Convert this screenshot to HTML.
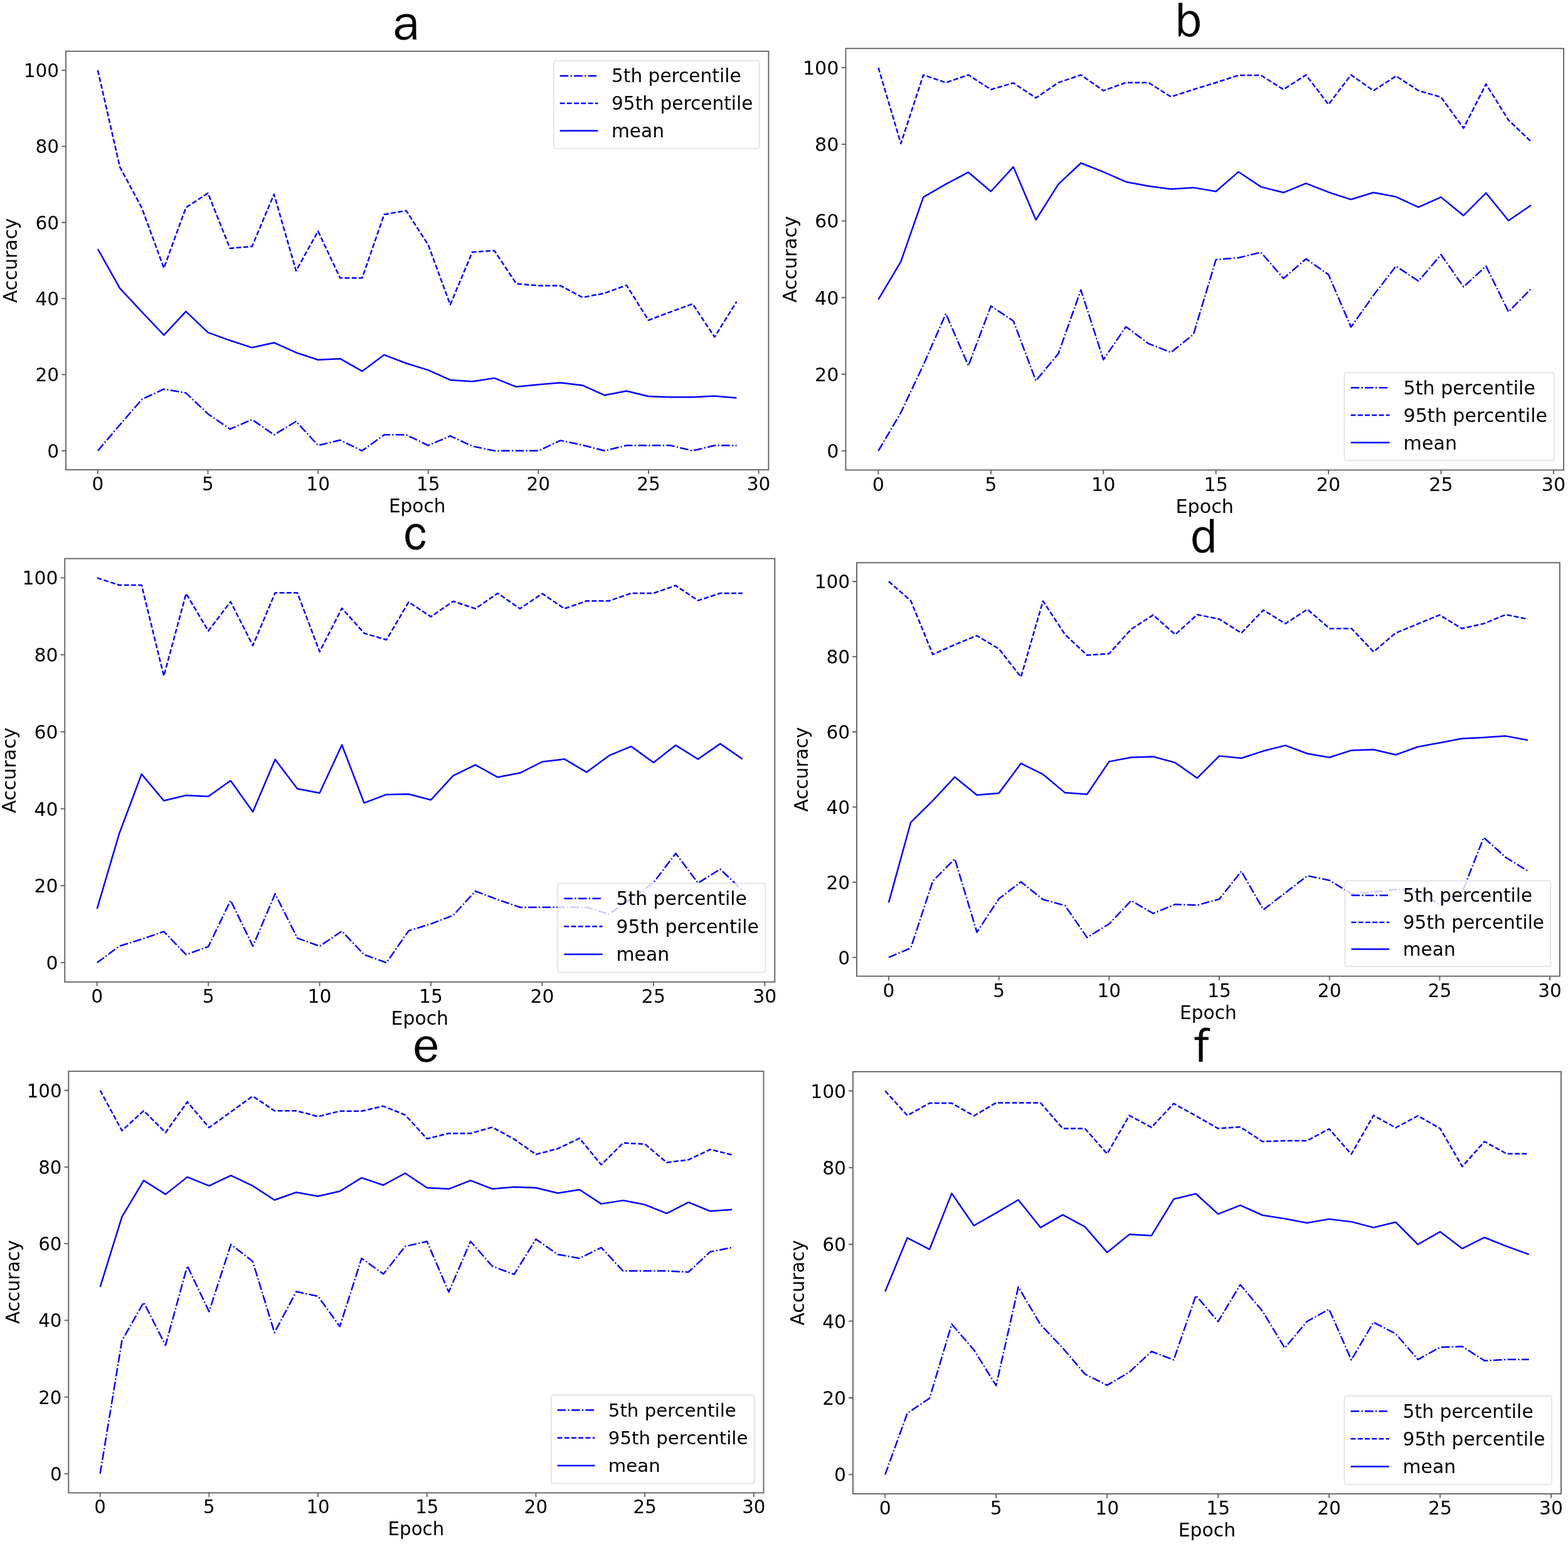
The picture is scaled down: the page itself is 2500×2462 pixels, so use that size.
<!DOCTYPE html>
<html><head><meta charset="utf-8"><title>Accuracy per epoch</title>
<style>
html,body{margin:0;padding:0;background:#fff;}
body{width:2500px;height:2462px;overflow:hidden;}
svg{display:block;}
.t{font-family:"DejaVu Sans","Liberation Sans",sans-serif;font-size:29.6px;fill:#000;}
.ti{font-family:"WenQuanYi Zen Hei","Liberation Sans",sans-serif;font-size:78px;fill:#000;}
</style></head><body>
<svg xmlns="http://www.w3.org/2000/svg" width="2500" height="2462" viewBox="0 0 2500 2462">
<rect width="2500" height="2462" fill="#fff"/>
<clipPath id="ca"><rect x="105" y="81.7" width="1120.4" height="667.4"/></clipPath>
<g clip-path="url(#ca)" fill="none" stroke="#0000ff" stroke-width="2.5" stroke-linejoin="round">
<polyline points="155.93,718.76 191.05,677.51 226.17,636.86 261.29,620.47 296.42,626.54 331.54,659.91 366.66,684.18 401.78,669.01 436.91,693.28 472.03,672.05 507.15,710.27 542.27,701.78 577.39,718.76 612.52,693.28 647.64,693.28 682.76,710.27 717.88,695.1 753.01,711.48 788.13,718.76 823.25,718.76 858.37,718.76 893.49,702.38 928.62,709.66 963.74,718.76 998.86,710.27 1033.98,710.27 1069.11,710.27 1104.23,718.76 1139.35,710.27 1174.47,710.27" stroke-dasharray="13.57 3.39 2.12 3.39"/>
<polyline points="155.93,112.04 191.05,266.15 226.17,331.67 261.29,427.53 296.42,331.06 331.54,308.01 366.66,395.98 401.78,392.95 436.91,309.83 472.03,431.78 507.15,368.68 542.27,443.31 577.39,443.31 612.52,341.99 647.64,335.92 682.76,390.52 717.88,485.78 753.01,402.05 788.13,399.63 823.25,452.41 858.37,455.44 893.49,455.44 928.62,474.25 963.74,467.58 998.86,454.84 1033.98,510.66 1069.11,497.31 1104.23,484.57 1139.35,537.35 1174.47,480.93" stroke-dasharray="7.84 3.39"/>
<polyline points="155.93,397.2 191.05,459.69 226.17,497.31 261.29,534.32 296.42,496.7 331.54,530.07 366.66,542.81 401.78,554.34 436.91,546.45 472.03,562.23 507.15,573.76 542.27,571.94 577.39,591.96 612.52,565.87 647.64,579.22 682.76,590.14 717.88,605.91 753.01,608.34 788.13,602.88 823.25,616.83 858.37,613.19 893.49,610.16 928.62,614.41 963.74,630.18 998.86,623.51 1033.98,632 1069.11,633.22 1104.23,633.22 1139.35,631.39 1174.47,634.43" />
</g>
<rect x="882.7" y="97.1" width="328.1" height="139.7" rx="3.5" ry="3.5" fill="#ffffff" fill-opacity="0.8" stroke="#dddddd" stroke-width="1.5"/>
<line x1="892.7" y1="120.99" x2="953.4" y2="120.99" stroke="#0000ff" stroke-width="2.5" stroke-dasharray="13.57 3.39 2.12 3.39"/>
<text x="975" y="131.49" class="t" style="font-size:29.6px">5th percentile</text>
<line x1="892.7" y1="164.76" x2="953.4" y2="164.76" stroke="#0000ff" stroke-width="2.5" stroke-dasharray="7.84 3.39"/>
<text x="975" y="175.26" class="t" style="font-size:29.6px">95th percentile</text>
<line x1="892.7" y1="208.52" x2="953.4" y2="208.52" stroke="#0000ff" stroke-width="2.5" />
<text x="975" y="219.02" class="t" style="font-size:29.6px">mean</text>
<rect x="105" y="81.7" width="1120.4" height="667.4" fill="none" stroke="#5c5c5c" stroke-width="1.8"/>
<text x="155.93" y="782.1" class="t" text-anchor="middle" style="font-size:29.6px">0</text>
<text x="331.54" y="782.1" class="t" text-anchor="middle" style="font-size:29.6px">5</text>
<text x="507.15" y="782.1" class="t" text-anchor="middle" style="font-size:29.6px">10</text>
<text x="682.76" y="782.1" class="t" text-anchor="middle" style="font-size:29.6px">15</text>
<text x="858.37" y="782.1" class="t" text-anchor="middle" style="font-size:29.6px">20</text>
<text x="1033.98" y="782.1" class="t" text-anchor="middle" style="font-size:29.6px">25</text>
<text x="1209.59" y="782.1" class="t" text-anchor="middle" style="font-size:29.6px">30</text>
<text x="94.2" y="729.76" class="t" text-anchor="end" style="font-size:29.6px">0</text>
<text x="94.2" y="608.42" class="t" text-anchor="end" style="font-size:29.6px">20</text>
<text x="94.2" y="487.07" class="t" text-anchor="end" style="font-size:29.6px">40</text>
<text x="94.2" y="365.73" class="t" text-anchor="end" style="font-size:29.6px">60</text>
<text x="94.2" y="244.38" class="t" text-anchor="end" style="font-size:29.6px">80</text>
<text x="94.2" y="123.04" class="t" text-anchor="end" style="font-size:29.6px">100</text>
<path d="M155.93 749.1v6.7 M331.54 749.1v6.7 M507.15 749.1v6.7 M682.76 749.1v6.7 M858.37 749.1v6.7 M1033.98 749.1v6.7 M1209.59 749.1v6.7 M105 718.76h-6.7 M105 597.42h-6.7 M105 476.07h-6.7 M105 354.73h-6.7 M105 233.38h-6.7 M105 112.04h-6.7" stroke="#5c5c5c" stroke-width="1.8" fill="none"/>
<text x="665.2" y="817.1" class="t" text-anchor="middle" style="font-size:29.6px">Epoch</text>
<text x="0" y="0" class="t" text-anchor="middle" style="font-size:29.6px" transform="translate(27 415.4) rotate(-90)">Accuracy</text>
<text x="646.5" y="63" class="ti" text-anchor="middle">a</text>
<clipPath id="cb"><rect x="1348.4" y="77.3" width="1144.7" height="672.2"/></clipPath>
<g clip-path="url(#cb)" fill="none" stroke="#0000ff" stroke-width="2.5" stroke-linejoin="round">
<polyline points="1400.43,718.95 1436.32,657.84 1472.2,582.06 1508.08,500.17 1543.97,583.28 1579.85,487.95 1615.74,511.79 1651.62,607.12 1687.5,563.73 1723.39,462.29 1759.27,573.51 1795.16,520.95 1831.04,547.84 1866.92,561.9 1902.81,533.17 1938.69,414.01 1974.58,410.96 2010.46,402.4 2046.34,443.95 2082.23,412.79 2118.11,437.84 2154,521.56 2189.88,470.84 2225.76,424.4 2261.65,448.23 2297.53,406.07 2333.42,457.4 2369.3,424.4 2405.18,497.12 2441.07,460.45" stroke-dasharray="13.57 3.39 2.12 3.39"/>
<polyline points="1400.43,107.85 1436.32,228.85 1472.2,119.47 1508.08,131.69 1543.97,119.47 1579.85,142.69 1615.74,132.3 1651.62,156.13 1687.5,131.69 1723.39,119.47 1759.27,144.52 1795.16,131.69 1831.04,131.69 1866.92,154.3 1902.81,142.69 1938.69,131.69 1974.58,120.08 2010.46,120.08 2046.34,142.69 2082.23,119.47 2118.11,166.52 2154,119.47 2189.88,144.52 2225.76,121.3 2261.65,144.52 2297.53,154.91 2333.42,204.41 2369.3,134.13 2405.18,191.57 2441.07,225.8" stroke-dasharray="7.84 3.39"/>
<polyline points="1400.43,477.56 1436.32,417.07 1472.2,314.4 1508.08,293.63 1543.97,274.68 1579.85,305.24 1615.74,266.13 1651.62,350.46 1687.5,293.63 1723.39,260.02 1759.27,274.07 1795.16,289.96 1831.04,296.68 1866.92,301.57 1902.81,299.13 1938.69,305.24 1974.58,274.07 2010.46,297.9 2046.34,307.07 2082.23,292.4 2118.11,306.46 2154,318.07 2189.88,307.07 2225.76,313.79 2261.65,330.29 2297.53,314.4 2333.42,343.74 2369.3,307.68 2405.18,351.68 2441.07,327.24" />
</g>
<rect x="2143.5" y="594.2" width="334.2" height="140" rx="3.5" ry="3.5" fill="#ffffff" fill-opacity="0.8" stroke="#dddddd" stroke-width="1.5"/>
<line x1="2153.69" y1="618.14" x2="2215.51" y2="618.14" stroke="#0000ff" stroke-width="2.5" stroke-dasharray="13.57 3.39 2.12 3.39"/>
<text x="2237.52" y="628.84" class="t" style="font-size:30.15px">5th percentile</text>
<line x1="2153.69" y1="662" x2="2215.51" y2="662" stroke="#0000ff" stroke-width="2.5" stroke-dasharray="7.84 3.39"/>
<text x="2237.52" y="672.7" class="t" style="font-size:30.15px">95th percentile</text>
<line x1="2153.69" y1="705.86" x2="2215.51" y2="705.86" stroke="#0000ff" stroke-width="2.5" />
<text x="2237.52" y="716.56" class="t" style="font-size:30.15px">mean</text>
<rect x="1348.4" y="77.3" width="1144.7" height="672.2" fill="none" stroke="#5c5c5c" stroke-width="1.8"/>
<text x="1400.43" y="782.5" class="t" text-anchor="middle" style="font-size:30.24px">0</text>
<text x="1579.85" y="782.5" class="t" text-anchor="middle" style="font-size:30.24px">5</text>
<text x="1759.27" y="782.5" class="t" text-anchor="middle" style="font-size:30.24px">10</text>
<text x="1938.69" y="782.5" class="t" text-anchor="middle" style="font-size:30.24px">15</text>
<text x="2118.11" y="782.5" class="t" text-anchor="middle" style="font-size:30.24px">20</text>
<text x="2297.53" y="782.5" class="t" text-anchor="middle" style="font-size:30.24px">25</text>
<text x="2476.95" y="782.5" class="t" text-anchor="middle" style="font-size:30.24px">30</text>
<text x="1337.6" y="729.95" class="t" text-anchor="end" style="font-size:30.24px">0</text>
<text x="1337.6" y="607.73" class="t" text-anchor="end" style="font-size:30.24px">20</text>
<text x="1337.6" y="485.51" class="t" text-anchor="end" style="font-size:30.24px">40</text>
<text x="1337.6" y="363.29" class="t" text-anchor="end" style="font-size:30.24px">60</text>
<text x="1337.6" y="241.07" class="t" text-anchor="end" style="font-size:30.24px">80</text>
<text x="1337.6" y="118.85" class="t" text-anchor="end" style="font-size:30.24px">100</text>
<path d="M1400.43 749.5v6.7 M1579.85 749.5v6.7 M1759.27 749.5v6.7 M1938.69 749.5v6.7 M2118.11 749.5v6.7 M2297.53 749.5v6.7 M2476.95 749.5v6.7 M1348.4 718.95h-6.7 M1348.4 596.73h-6.7 M1348.4 474.51h-6.7 M1348.4 352.29h-6.7 M1348.4 230.07h-6.7 M1348.4 107.85h-6.7" stroke="#5c5c5c" stroke-width="1.8" fill="none"/>
<text x="1920.75" y="817.5" class="t" text-anchor="middle" style="font-size:30.24px">Epoch</text>
<text x="0" y="0" class="t" text-anchor="middle" style="font-size:30.24px" transform="translate(1270.4 413.4) rotate(-90)">Accuracy</text>
<text x="1895.2" y="57.9" class="ti" text-anchor="middle">b</text>
<clipPath id="cc"><rect x="103.3" y="890.7" width="1132" height="675.1"/></clipPath>
<g clip-path="url(#cc)" fill="none" stroke="#0000ff" stroke-width="2.5" stroke-linejoin="round">
<polyline points="154.75,1535.11 190.24,1508.72 225.73,1497.68 261.21,1485.4 296.7,1522.23 332.18,1509.34 367.67,1435.69 403.16,1508.72 438.64,1425.26 474.13,1495.84 509.61,1508.72 545.1,1484.79 580.59,1522.23 616.07,1535.11 651.56,1484.17 687.04,1473.13 722.53,1459.63 758.01,1420.96 793.5,1434.46 828.99,1446.74 864.47,1446.74 899.96,1446.74 935.44,1446.74 970.93,1457.78 1006.42,1433.23 1041.9,1407.46 1077.39,1360.82 1112.87,1408.07 1148.36,1385.98 1183.85,1419.73" stroke-dasharray="13.57 3.39 2.12 3.39"/>
<polyline points="154.75,921.39 190.24,933.05 225.73,933.05 261.21,1077.89 296.7,946.55 332.18,1006.08 367.67,959.44 403.16,1029.4 438.64,945.32 474.13,945.32 509.61,1039.22 545.1,969.87 580.59,1009.76 616.07,1020.2 651.56,960.05 687.04,983.37 722.53,958.82 758.01,970.48 793.5,945.94 828.99,970.48 864.47,946.55 899.96,970.48 935.44,958.21 970.93,958.21 1006.42,945.94 1041.9,945.94 1077.39,933.66 1112.87,957.6 1148.36,945.94 1183.85,945.94" stroke-dasharray="7.84 3.39"/>
<polyline points="154.75,1449.19 190.24,1328.9 225.73,1234.39 261.21,1276.73 296.7,1268.14 332.18,1269.98 367.67,1244.82 403.16,1294.53 438.64,1211.07 474.13,1257.71 509.61,1264.46 545.1,1187.74 580.59,1280.42 616.07,1266.91 651.56,1266.3 687.04,1275.51 722.53,1236.84 758.01,1219.66 793.5,1239.3 828.99,1232.55 864.47,1214.75 899.96,1210.45 935.44,1231.32 970.93,1204.93 1006.42,1190.2 1041.9,1215.98 1077.39,1188.36 1112.87,1210.45 1148.36,1185.9 1183.85,1210.45" />
</g>
<rect x="889.3" y="1408.6" width="331.1" height="141.8" rx="3.5" ry="3.5" fill="#ffffff" fill-opacity="0.8" stroke="#dddddd" stroke-width="1.5"/>
<line x1="899.39" y1="1432.85" x2="960.65" y2="1432.85" stroke="#0000ff" stroke-width="2.5" stroke-dasharray="13.57 3.39 2.12 3.39"/>
<text x="982.44" y="1443.44" class="t" style="font-size:29.87px">5th percentile</text>
<line x1="899.39" y1="1477.27" x2="960.65" y2="1477.27" stroke="#0000ff" stroke-width="2.5" stroke-dasharray="7.84 3.39"/>
<text x="982.44" y="1487.87" class="t" style="font-size:29.87px">95th percentile</text>
<line x1="899.39" y1="1521.7" x2="960.65" y2="1521.7" stroke="#0000ff" stroke-width="2.5" />
<text x="982.44" y="1532.3" class="t" style="font-size:29.87px">mean</text>
<rect x="103.3" y="890.7" width="1132" height="675.1" fill="none" stroke="#5c5c5c" stroke-width="1.8"/>
<text x="154.75" y="1598.8" class="t" text-anchor="middle" style="font-size:29.91px">0</text>
<text x="332.18" y="1598.8" class="t" text-anchor="middle" style="font-size:29.91px">5</text>
<text x="509.61" y="1598.8" class="t" text-anchor="middle" style="font-size:29.91px">10</text>
<text x="687.04" y="1598.8" class="t" text-anchor="middle" style="font-size:29.91px">15</text>
<text x="864.47" y="1598.8" class="t" text-anchor="middle" style="font-size:29.91px">20</text>
<text x="1041.9" y="1598.8" class="t" text-anchor="middle" style="font-size:29.91px">25</text>
<text x="1219.33" y="1598.8" class="t" text-anchor="middle" style="font-size:29.91px">30</text>
<text x="92.5" y="1546.11" class="t" text-anchor="end" style="font-size:29.91px">0</text>
<text x="92.5" y="1423.37" class="t" text-anchor="end" style="font-size:29.91px">20</text>
<text x="92.5" y="1300.62" class="t" text-anchor="end" style="font-size:29.91px">40</text>
<text x="92.5" y="1177.88" class="t" text-anchor="end" style="font-size:29.91px">60</text>
<text x="92.5" y="1055.13" class="t" text-anchor="end" style="font-size:29.91px">80</text>
<text x="92.5" y="932.39" class="t" text-anchor="end" style="font-size:29.91px">100</text>
<path d="M154.75 1565.8v6.7 M332.18 1565.8v6.7 M509.61 1565.8v6.7 M687.04 1565.8v6.7 M864.47 1565.8v6.7 M1041.9 1565.8v6.7 M1219.33 1565.8v6.7 M103.3 1535.11h-6.7 M103.3 1412.37h-6.7 M103.3 1289.62h-6.7 M103.3 1166.88h-6.7 M103.3 1044.13h-6.7 M103.3 921.39h-6.7" stroke="#5c5c5c" stroke-width="1.8" fill="none"/>
<text x="669.3" y="1633.8" class="t" text-anchor="middle" style="font-size:29.91px">Epoch</text>
<text x="0" y="0" class="t" text-anchor="middle" style="font-size:29.91px" transform="translate(25.3 1228.25) rotate(-90)">Accuracy</text>
<text x="662.3" y="876.2" class="ti" text-anchor="middle">c</text>
<clipPath id="cd"><rect x="1366" y="897.3" width="1120.9" height="659.3"/></clipPath>
<g clip-path="url(#cd)" fill="none" stroke="#0000ff" stroke-width="2.5" stroke-linejoin="round">
<polyline points="1416.95,1526.63 1452.09,1511.65 1487.23,1404.96 1522.36,1369.6 1557.5,1486.47 1592.64,1433.13 1627.78,1406.16 1662.92,1434.33 1698.05,1443.92 1733.19,1494.87 1768.33,1473.29 1803.47,1436.13 1838.61,1456.51 1873.74,1442.12 1908.88,1443.32 1944.02,1433.73 1979.16,1389.38 2014.29,1450.51 2049.43,1423.54 2084.57,1396.57 2119.71,1403.76 2154.85,1425.34 2189.98,1422.34 2225.12,1418.15 2260.26,1419.95 2295.4,1442.72 2330.54,1424.14 2365.67,1335.43 2400.81,1367.2 2435.95,1388.78" stroke-dasharray="13.57 3.39 2.12 3.39"/>
<polyline points="1416.95,927.27 1452.09,957.84 1487.23,1043.54 1522.36,1027.96 1557.5,1013.58 1592.64,1034.55 1627.78,1079.51 1662.92,958.44 1698.05,1011.78 1733.19,1044.74 1768.33,1042.35 1803.47,1003.39 1838.61,980.61 1873.74,1011.78 1908.88,980.01 1944.02,987.2 1979.16,1009.38 2014.29,972.82 2049.43,994.4 2084.57,971.62 2119.71,1002.19 2154.85,1002.19 2189.98,1039.35 2225.12,1009.38 2260.26,995 2295.4,980.61 2330.54,1002.19 2365.67,994.4 2400.81,980.01 2435.95,987.2" stroke-dasharray="7.84 3.39"/>
<polyline points="1416.95,1439.12 1452.09,1311.46 1487.23,1276.7 1522.36,1238.94 1557.5,1267.71 1592.64,1264.71 1627.78,1217.36 1662.92,1234.74 1698.05,1264.11 1733.19,1266.51 1768.33,1214.36 1803.47,1207.77 1838.61,1206.57 1873.74,1216.16 1908.88,1240.74 1944.02,1205.37 1979.16,1208.97 2014.29,1197.58 2049.43,1188.59 2084.57,1201.78 2119.71,1207.77 2154.85,1196.38 2189.98,1195.18 2225.12,1203.57 2260.26,1190.99 2295.4,1184.4 2330.54,1177.8 2365.67,1176 2400.81,1173.61 2435.95,1180.2" />
</g>
<rect x="2144.5" y="1404.5" width="328" height="136.6" rx="3.5" ry="3.5" fill="#ffffff" fill-opacity="0.8" stroke="#dddddd" stroke-width="1.5"/>
<line x1="2154.5" y1="1427.86" x2="2215.18" y2="1427.86" stroke="#0000ff" stroke-width="2.5" stroke-dasharray="13.57 3.39 2.12 3.39"/>
<text x="2236.77" y="1438.36" class="t" style="font-size:29.59px">5th percentile</text>
<line x1="2154.5" y1="1470.66" x2="2215.18" y2="1470.66" stroke="#0000ff" stroke-width="2.5" stroke-dasharray="7.84 3.39"/>
<text x="2236.77" y="1481.15" class="t" style="font-size:29.59px">95th percentile</text>
<line x1="2154.5" y1="1513.45" x2="2215.18" y2="1513.45" stroke="#0000ff" stroke-width="2.5" />
<text x="2236.77" y="1523.95" class="t" style="font-size:29.59px">mean</text>
<rect x="1366" y="897.3" width="1120.9" height="659.3" fill="none" stroke="#5c5c5c" stroke-width="1.8"/>
<text x="1416.95" y="1589.6" class="t" text-anchor="middle" style="font-size:29.61px">0</text>
<text x="1592.64" y="1589.6" class="t" text-anchor="middle" style="font-size:29.61px">5</text>
<text x="1768.33" y="1589.6" class="t" text-anchor="middle" style="font-size:29.61px">10</text>
<text x="1944.02" y="1589.6" class="t" text-anchor="middle" style="font-size:29.61px">15</text>
<text x="2119.71" y="1589.6" class="t" text-anchor="middle" style="font-size:29.61px">20</text>
<text x="2295.4" y="1589.6" class="t" text-anchor="middle" style="font-size:29.61px">25</text>
<text x="2471.09" y="1589.6" class="t" text-anchor="middle" style="font-size:29.61px">30</text>
<text x="1355.2" y="1537.63" class="t" text-anchor="end" style="font-size:29.61px">0</text>
<text x="1355.2" y="1417.76" class="t" text-anchor="end" style="font-size:29.61px">20</text>
<text x="1355.2" y="1297.89" class="t" text-anchor="end" style="font-size:29.61px">40</text>
<text x="1355.2" y="1178.01" class="t" text-anchor="end" style="font-size:29.61px">60</text>
<text x="1355.2" y="1058.14" class="t" text-anchor="end" style="font-size:29.61px">80</text>
<text x="1355.2" y="938.27" class="t" text-anchor="end" style="font-size:29.61px">100</text>
<path d="M1416.95 1556.6v6.7 M1592.64 1556.6v6.7 M1768.33 1556.6v6.7 M1944.02 1556.6v6.7 M2119.71 1556.6v6.7 M2295.4 1556.6v6.7 M2471.09 1556.6v6.7 M1366 1526.63h-6.7 M1366 1406.76h-6.7 M1366 1286.89h-6.7 M1366 1167.01h-6.7 M1366 1047.14h-6.7 M1366 927.27h-6.7" stroke="#5c5c5c" stroke-width="1.8" fill="none"/>
<text x="1926.45" y="1624.6" class="t" text-anchor="middle" style="font-size:29.61px">Epoch</text>
<text x="0" y="0" class="t" text-anchor="middle" style="font-size:29.61px" transform="translate(1288 1226.95) rotate(-90)">Accuracy</text>
<text x="1919.3" y="880.7" class="ti" text-anchor="middle">d</text>
<clipPath id="ce"><rect x="109.3" y="1708.2" width="1108.2" height="672.2"/></clipPath>
<g clip-path="url(#ce)" fill="none" stroke="#0000ff" stroke-width="2.5" stroke-linejoin="round">
<polyline points="159.67,2349.85 194.41,2137.8 229.15,2076.69 263.89,2145.13 298.63,2018.63 333.37,2091.35 368.11,1984.41 402.85,2011.3 437.59,2124.96 472.33,2059.58 507.07,2066.91 541.81,2115.19 576.55,2006.41 611.29,2031.47 646.03,1987.47 680.77,1979.52 715.51,2060.19 750.25,1979.52 784.99,2019.25 819.73,2032.08 854.47,1975.86 889.21,2000.3 923.95,2006.41 958.69,1989.3 993.43,2026.58 1028.17,2026.58 1062.91,2026.58 1097.65,2028.41 1132.39,1996.02 1167.13,1989.3" stroke-dasharray="13.57 3.39 2.12 3.39"/>
<polyline points="159.67,1738.75 194.41,1802.92 229.15,1771.14 263.89,1805.97 298.63,1757.09 333.37,1798.03 368.11,1772.98 402.85,1747.92 437.59,1771.14 472.33,1771.14 507.07,1780.31 541.81,1771.75 576.55,1771.75 611.29,1763.81 646.03,1777.86 680.77,1815.75 715.51,1807.2 750.25,1807.2 784.99,1797.42 819.73,1816.36 854.47,1840.81 889.21,1831.64 923.95,1815.14 958.69,1857.31 993.43,1822.47 1028.17,1824.31 1062.91,1853.64 1097.65,1849.36 1132.39,1832.86 1167.13,1841.42" stroke-dasharray="7.84 3.39"/>
<polyline points="159.67,2052.24 194.41,1940.41 229.15,1882.36 263.89,1904.36 298.63,1876.86 333.37,1890.92 368.11,1874.42 402.85,1890.92 437.59,1913.53 472.33,1901.3 507.07,1907.42 541.81,1899.47 576.55,1878.08 611.29,1889.69 646.03,1870.75 680.77,1893.97 715.51,1895.8 750.25,1882.36 784.99,1895.8 819.73,1892.75 854.47,1893.97 889.21,1902.53 923.95,1897.03 958.69,1919.64 993.43,1914.14 1028.17,1920.86 1062.91,1934.91 1097.65,1917.19 1132.39,1931.25 1167.13,1928.8" />
</g>
<rect x="878.7" y="2224.5" width="323.9" height="141" rx="3.5" ry="3.5" fill="#ffffff" fill-opacity="0.8" stroke="#dddddd" stroke-width="1.5"/>
<line x1="888.57" y1="2248.61" x2="948.49" y2="2248.61" stroke="#0000ff" stroke-width="2.5" stroke-dasharray="13.57 3.39 2.12 3.39"/>
<text x="969.82" y="2258.98" class="t" style="font-size:29.22px">5th percentile</text>
<line x1="888.57" y1="2292.79" x2="948.49" y2="2292.79" stroke="#0000ff" stroke-width="2.5" stroke-dasharray="7.84 3.39"/>
<text x="969.82" y="2303.15" class="t" style="font-size:29.22px">95th percentile</text>
<line x1="888.57" y1="2336.96" x2="948.49" y2="2336.96" stroke="#0000ff" stroke-width="2.5" />
<text x="969.82" y="2347.33" class="t" style="font-size:29.22px">mean</text>
<rect x="109.3" y="1708.2" width="1108.2" height="672.2" fill="none" stroke="#5c5c5c" stroke-width="1.8"/>
<text x="159.67" y="2413.4" class="t" text-anchor="middle" style="font-size:29.28px">0</text>
<text x="333.37" y="2413.4" class="t" text-anchor="middle" style="font-size:29.28px">5</text>
<text x="507.07" y="2413.4" class="t" text-anchor="middle" style="font-size:29.28px">10</text>
<text x="680.77" y="2413.4" class="t" text-anchor="middle" style="font-size:29.28px">15</text>
<text x="854.47" y="2413.4" class="t" text-anchor="middle" style="font-size:29.28px">20</text>
<text x="1028.17" y="2413.4" class="t" text-anchor="middle" style="font-size:29.28px">25</text>
<text x="1201.87" y="2413.4" class="t" text-anchor="middle" style="font-size:29.28px">30</text>
<text x="98.5" y="2360.85" class="t" text-anchor="end" style="font-size:29.28px">0</text>
<text x="98.5" y="2238.63" class="t" text-anchor="end" style="font-size:29.28px">20</text>
<text x="98.5" y="2116.41" class="t" text-anchor="end" style="font-size:29.28px">40</text>
<text x="98.5" y="1994.19" class="t" text-anchor="end" style="font-size:29.28px">60</text>
<text x="98.5" y="1871.97" class="t" text-anchor="end" style="font-size:29.28px">80</text>
<text x="98.5" y="1749.75" class="t" text-anchor="end" style="font-size:29.28px">100</text>
<path d="M159.67 2380.4v6.7 M333.37 2380.4v6.7 M507.07 2380.4v6.7 M680.77 2380.4v6.7 M854.47 2380.4v6.7 M1028.17 2380.4v6.7 M1201.87 2380.4v6.7 M109.3 2349.85h-6.7 M109.3 2227.63h-6.7 M109.3 2105.41h-6.7 M109.3 1983.19h-6.7 M109.3 1860.97h-6.7 M109.3 1738.75h-6.7" stroke="#5c5c5c" stroke-width="1.8" fill="none"/>
<text x="663.4" y="2448.4" class="t" text-anchor="middle" style="font-size:29.28px">Epoch</text>
<text x="0" y="0" class="t" text-anchor="middle" style="font-size:29.28px" transform="translate(31.3 2044.3) rotate(-90)">Accuracy</text>
<text x="679.6" y="1692.5" class="ti" text-anchor="middle">e</text>
<clipPath id="cf"><rect x="1359.9" y="1708.9" width="1129.1" height="673.1"/></clipPath>
<g clip-path="url(#cf)" fill="none" stroke="#0000ff" stroke-width="2.5" stroke-linejoin="round">
<polyline points="1411.22,2351.4 1446.62,2253.5 1482.01,2229.63 1517.41,2111.54 1552.8,2152.53 1588.2,2209.44 1623.59,2052.18 1658.99,2112.15 1694.38,2149.47 1729.78,2191.08 1765.17,2208.83 1800.57,2188.02 1835.96,2154.98 1871.36,2168.44 1906.75,2065.64 1942.15,2107.25 1977.54,2048.51 2012.94,2090.73 2048.33,2149.47 2083.73,2107.25 2119.12,2087.67 2154.52,2168.44 2189.91,2108.48 2225.31,2126.83 2260.7,2167.83 2296.1,2148.25 2331.49,2147.03 2366.89,2169.67 2402.28,2167.83 2437.68,2167.83" stroke-dasharray="13.57 3.39 2.12 3.39"/>
<polyline points="1411.22,1739.5 1446.62,1778.66 1482.01,1759.08 1517.41,1759.08 1552.8,1779.27 1588.2,1758.46 1623.59,1758.46 1658.99,1758.46 1694.38,1799.46 1729.78,1799.46 1765.17,1839.85 1800.57,1778.66 1835.96,1797.63 1871.36,1759.69 1906.75,1779.27 1942.15,1799.46 1977.54,1797.01 2012.94,1820.27 2048.33,1819.04 2083.73,1819.04 2119.12,1800.07 2154.52,1840.46 2189.91,1778.66 2225.31,1798.24 2260.7,1779.27 2296.1,1799.46 2331.49,1860.04 2366.89,1820.27 2402.28,1839.85 2437.68,1839.85" stroke-dasharray="7.84 3.39"/>
<polyline points="1411.22,2059.52 1446.62,1973.86 1482.01,1992.21 1517.41,1902.88 1552.8,1954.28 1588.2,1934.08 1623.59,1913.28 1658.99,1957.34 1694.38,1937.14 1729.78,1956.11 1765.17,1997.11 1800.57,1968.35 1835.96,1970.19 1871.36,1912.05 1906.75,1903.49 1942.15,1935.92 1977.54,1921.84 2012.94,1937.75 2048.33,1943.26 2083.73,1949.99 2119.12,1943.87 2154.52,1948.16 2189.91,1957.34 2225.31,1948.77 2260.7,1984.26 2296.1,1964.07 2331.49,1990.99 2366.89,1973.24 2402.28,1987.32 2437.68,2000.17" />
</g>
<rect x="2143.5" y="2226" width="330.6" height="141.1" rx="3.5" ry="3.5" fill="#ffffff" fill-opacity="0.8" stroke="#dddddd" stroke-width="1.5"/>
<line x1="2153.58" y1="2250.13" x2="2214.74" y2="2250.13" stroke="#0000ff" stroke-width="2.5" stroke-dasharray="13.57 3.39 2.12 3.39"/>
<text x="2236.5" y="2260.71" class="t" style="font-size:29.83px">5th percentile</text>
<line x1="2153.58" y1="2294.33" x2="2214.74" y2="2294.33" stroke="#0000ff" stroke-width="2.5" stroke-dasharray="7.84 3.39"/>
<text x="2236.5" y="2304.91" class="t" style="font-size:29.83px">95th percentile</text>
<line x1="2153.58" y1="2338.54" x2="2214.74" y2="2338.54" stroke="#0000ff" stroke-width="2.5" />
<text x="2236.5" y="2349.12" class="t" style="font-size:29.83px">mean</text>
<rect x="1359.9" y="1708.9" width="1129.1" height="673.1" fill="none" stroke="#5c5c5c" stroke-width="1.8"/>
<text x="1411.22" y="2415" class="t" text-anchor="middle" style="font-size:29.83px">0</text>
<text x="1588.2" y="2415" class="t" text-anchor="middle" style="font-size:29.83px">5</text>
<text x="1765.17" y="2415" class="t" text-anchor="middle" style="font-size:29.83px">10</text>
<text x="1942.15" y="2415" class="t" text-anchor="middle" style="font-size:29.83px">15</text>
<text x="2119.12" y="2415" class="t" text-anchor="middle" style="font-size:29.83px">20</text>
<text x="2296.1" y="2415" class="t" text-anchor="middle" style="font-size:29.83px">25</text>
<text x="2473.07" y="2415" class="t" text-anchor="middle" style="font-size:29.83px">30</text>
<text x="1349.1" y="2362.4" class="t" text-anchor="end" style="font-size:29.83px">0</text>
<text x="1349.1" y="2240.02" class="t" text-anchor="end" style="font-size:29.83px">20</text>
<text x="1349.1" y="2117.64" class="t" text-anchor="end" style="font-size:29.83px">40</text>
<text x="1349.1" y="1995.26" class="t" text-anchor="end" style="font-size:29.83px">60</text>
<text x="1349.1" y="1872.88" class="t" text-anchor="end" style="font-size:29.83px">80</text>
<text x="1349.1" y="1750.5" class="t" text-anchor="end" style="font-size:29.83px">100</text>
<path d="M1411.22 2382v6.7 M1588.2 2382v6.7 M1765.17 2382v6.7 M1942.15 2382v6.7 M2119.12 2382v6.7 M2296.1 2382v6.7 M2473.07 2382v6.7 M1359.9 2351.4h-6.7 M1359.9 2229.02h-6.7 M1359.9 2106.64h-6.7 M1359.9 1984.26h-6.7 M1359.9 1861.88h-6.7 M1359.9 1739.5h-6.7" stroke="#5c5c5c" stroke-width="1.8" fill="none"/>
<text x="1924.45" y="2450" class="t" text-anchor="middle" style="font-size:29.83px">Epoch</text>
<text x="0" y="0" class="t" text-anchor="middle" style="font-size:29.83px" transform="translate(1281.9 2045.45) rotate(-90)">Accuracy</text>
<text x="1915.5" y="1693.3" class="ti" text-anchor="middle">f</text>
</svg>
</body></html>
